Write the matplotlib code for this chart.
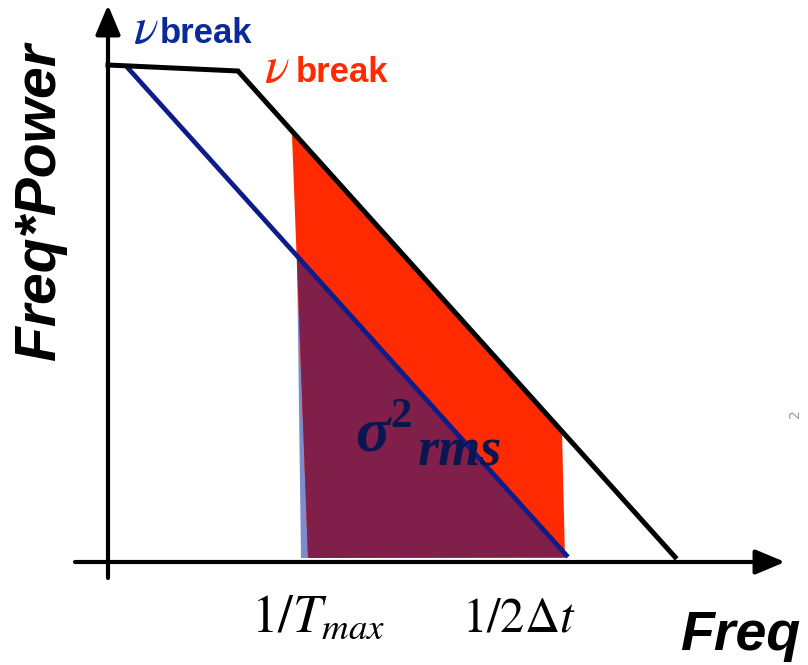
import numpy as np
import matplotlib
matplotlib.use('Agg')
import matplotlib.pyplot as plt
from matplotlib.patches import Polygon

# schematic coordinates: x = log frequency, y = freq*power (arbitrary units)
# black spectrum (later break) and blue spectrum (earlier break)
black_x = [0, 130, 567]
black_y = [497, 491, 5]
blue_x = [19, 460]
blue_y = [495, 5]

# sampled band between 1/Tmax and 1/2dt
red_band = [(184, 427), (188, 427), (454, 131), (457, 4), (200, 4)]
blue_band = [(189, 305), (460, 5), (193, 4)]
overlap_band = [(189, 305), (460, 5), (200, 4)]

tick_labels = [r'$\mathit{1/T}_{\mathit{max}}$', r'$\mathit{1/2\Delta t}$']
tick_pos = [143, 354]
tick_sizes = [38, 35]

red = '#ff2a00'
navy = '#0e1c8a'
purple = '#7f1f4a'
light_blue = '#7d8ccc'

fig = plt.figure(figsize=(8.08, 6.65), dpi=100)
ax = fig.add_axes([0, 0, 1, 1])
ax.set_xlim(-108, 700)
ax.set_ylim(-103, 562)
ax.axis('off')

# shaded areas
ax.add_patch(Polygon(blue_band, closed=True, fc=light_blue, ec='none', zorder=1))
ax.add_patch(Polygon(red_band, closed=True, fc=red, ec='none', zorder=2))
ax.add_patch(Polygon(overlap_band, closed=True, fc=purple, ec='none', zorder=3))

# spectra
ax.plot(blue_x, blue_y, color=navy, lw=3.4, solid_capstyle='butt', zorder=4)
ax.plot(black_x, black_y, color='black', lw=3.6, solid_joinstyle='miter', zorder=5)

# axes with arrows
arr = dict(arrowstyle='-|>,head_length=1.0,head_width=0.42', color='black',
           lw=3.0, mutation_scale=18, shrinkA=0, shrinkB=0)
ax.annotate('', xy=(0, 557), xytext=(0, -16), arrowprops=arr, zorder=6)
ax.annotate('', xy=(677, 0), xytext=(-33, 0), arrowprops=arr, zorder=6)

# break labels
ax.text(25, 519, r'$\nu$', color='#0a2a9a', fontsize=37, math_fontfamily='stix',
        ha='left', va='baseline')
ax.text(52, 519, 'break', color='#0a2a9a', fontsize=25, fontweight='bold',
        family='Liberation Sans', ha='left', va='baseline')
ax.text(156, 480, r'$\nu$', color=red, fontsize=37, math_fontfamily='stix',
        ha='left', va='baseline')
ax.text(188, 480, 'break', color=red, fontsize=25, fontweight='bold',
        family='Liberation Sans', ha='left', va='baseline')

# axis titles
ax.text(-68, 360, 'Freq*Power', rotation=90, fontsize=41, fontweight='bold',
        fontstyle='italic', family='Liberation Sans', ha='center', va='center')
ax.text(632, -88, 'Freq', fontsize=40, fontweight='bold', fontstyle='italic',
        family='Liberation Sans', ha='center', va='baseline')

for pos, lab, sz in zip(tick_pos, tick_labels, tick_sizes):
    ax.text(pos, -70, lab, fontsize=sz, math_fontfamily='stix',
            ha='left', va='baseline')

# sigma^2 rms
txt_col = '#0b1550'
ax.text(247, 110, '\u03c3', color=txt_col, fontsize=46, fontweight='bold',
        fontstyle='italic', family='Liberation Serif', ha='left', va='baseline', zorder=7)
ax.text(282, 135, '2', color=txt_col, fontsize=31, fontweight='bold',
        family='Liberation Serif', ha='left', va='baseline', zorder=7)
ax.text(310, 97, 'rms', color=txt_col, fontsize=39, fontweight='bold',
        fontstyle='italic', family='Liberation Serif', ha='left', va='baseline', zorder=7)

ax.text(687, 148, '2', color='#999999', fontsize=10, rotation=90,
        ha='center', va='center')

fig.savefig('out.png', dpi=100)
